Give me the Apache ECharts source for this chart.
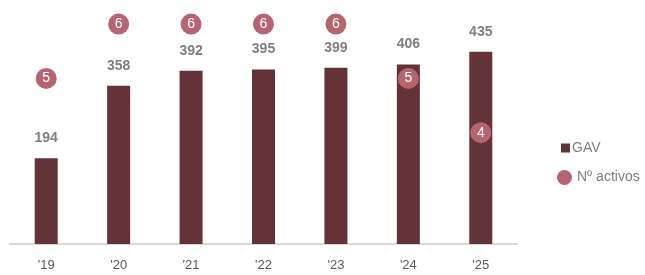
<!DOCTYPE html>
<html>
<head>
<meta charset="utf-8">
<script src="https://cdn.jsdelivr.net/npm/echarts@6/dist/echarts.min.js"></script>
<style>html,body{margin:0;padding:0;background:#fff}#c{width:645px;height:275px}</style>
</head>
<body>
<div id="c"></div>
<script>
var categories = ["'19", "'20", "'21", "'22", "'23", "'24", "'25"];
var gav = [194, 358, 392, 395, 399, 406, 435];
var activos = [5, 6, 6, 6, 6, 5, 4];

var chart = echarts.init(document.getElementById('c'));
chart.setOption({
  animation: false,
  grid: { left: 10, right: 128, top: 23, bottom: 31 },
  legend: [
    { left: 556, top: 136, orient: 'vertical', itemWidth: 9, itemHeight: 9,
      itemStyle: { borderWidth: 0 },
      data: [{ name: 'GAV', icon: 'rect' }],
      textStyle: { color: '#7f7f7f', fontSize: 14, fontFamily: 'Liberation Sans', padding: [0,0,0,-3] } },
    { left: 552, top: 165, orient: 'vertical', itemWidth: 15, itemHeight: 15,
      data: [{ name: 'Nº activos', icon: 'circle' }],
      textStyle: { color: '#7f7f7f', fontSize: 14, fontFamily: 'Liberation Sans' } }
  ],
  xAxis: {
    type: 'category', data: categories,
    axisLine: { lineStyle: { color: '#d9d9d9', width: 2 } },
    axisTick: { show: false },
    axisLabel: { color: '#595959', fontSize: 13, fontFamily: 'Liberation Sans', margin: 15 }
  },
  yAxis: [
    { type: 'value', min: 0, max: 500, show: false, splitLine: { show: false } },
    { type: 'value', min: 1.95, max: 6.02, show: false, splitLine: { show: false } }
  ],
  series: [
    { name: 'GAV', type: 'bar', data: gav, barWidth: 23,
      itemStyle: { color: '#643239' },
      label: { show: true, position: 'top', distance: 13, color: '#7f7f7f', fontWeight: 'bold',
               fontSize: 14, fontFamily: 'Liberation Sans' } },
    { name: 'Nº activos', type: 'scatter', yAxisIndex: 1, data: activos, symbolSize: 21,
      itemStyle: { color: '#b5656f', opacity: 1 },
      label: { show: true, position: 'inside', color: '#ffffff', fontSize: 14, fontFamily: 'Liberation Sans' } }
  ]
});
</script>
</body>
</html>
